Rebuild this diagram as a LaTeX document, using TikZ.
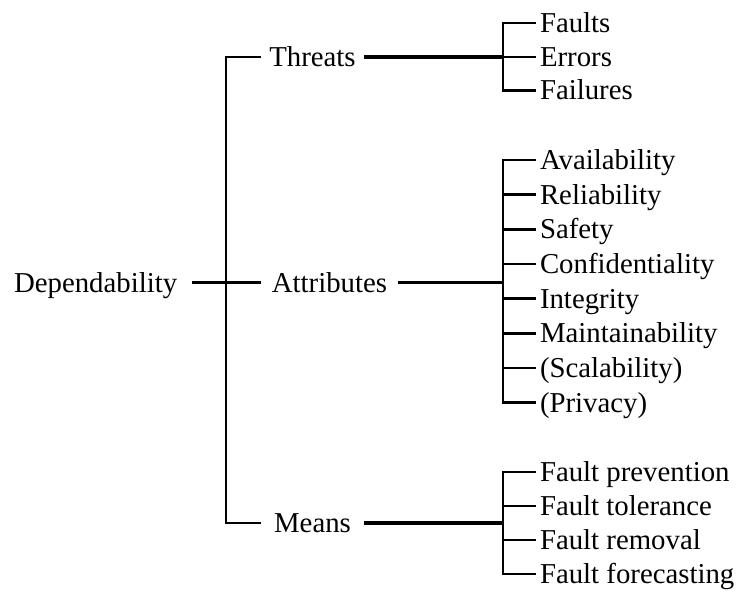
\documentclass[tikz,border=0pt]{standalone}
\usepackage{fontspec}
\setmainfont{Liberation Serif}
\begin{document}
\begin{tikzpicture}[x=1pt,y=-1pt,
  every node/.style={font=\fontsize{28.8}{34}\selectfont, text height=19.1pt,
    text depth=0pt, inner ysep=0pt, outer sep=0pt},
  rootnode/.style={anchor=east, inner xsep=14.5pt},
  branchnode/.style={inner xsep=0pt, minimum width=103.6pt},
  leafnode/.style={anchor=west, inner xsep=4pt},
  wire/.style={line width=2.3pt},
  trunk/.style={line width=3.2pt},
  comb/.style={line width=2.6pt},
]
\useasboundingbox (0,0) rectangle (741,590);

% root and the three branches
\node[rootnode] (dep) at (191.7,282.5) {Dependability};
\node[branchnode] (thr) at (312.5,57) {Threats};
\node[branchnode, minimum width=137.6pt] (att) at (329.5,282.5) {Attributes};
\node[branchnode] (mea) at (312.5,523) {Means};

% spine joining the branches
\coordinate (sT) at (226,57);
\coordinate (sA) at (226,282.5);
\coordinate (sM) at (226,523);
\draw[wire] (thr.west) -- (sT) -- (sM) -- (mea.west);
\draw[trunk] (dep.east) -- (sA);
\draw[wire] (sA) -- (att.west);

% threats
\node[leafnode] (t1) at (536,23) {Faults};
\node[leafnode] (t2) at (536,57) {Errors};
\node[leafnode] (t3) at (536,90.3) {Failures};
\coordinate (tj) at (503,57);
\draw[trunk] (thr.east) -- (tj);
\draw[comb] (t1.west) -| (tj) |- (t3.west);
\draw[comb] (tj) -- (t2.west);

% attributes
\foreach \k/\txt in {1/Availability, 2/Reliability, 3/Safety, 4/Confidentiality,
                    5/Integrity, 6/Maintainability, 7/(Scalability), 8/(Privacy)}
  \node[leafnode] (a\k) at (536,{160+(\k-1)*34.67}) {\txt};
\coordinate (aj) at (503,282.5);
\draw[trunk] (att.east) -- (aj);
\draw[comb] (a1.west) -| (aj) |- (a8.west);
\foreach \k in {2,...,7}
  \draw[comb] (aj |- a\k.west) -- (a\k.west);

% means
\node[leafnode] (m1) at (536,472) {Fault prevention};
\node[leafnode] (m2) at (536,506) {Fault tolerance};
\node[leafnode] (m3) at (536,540) {Fault removal};
\node[leafnode] (m4) at (536,574) {Fault forecasting};
\coordinate (mj) at (503,523);
\draw[trunk] (mea.east) -- (mj);
\draw[comb] (m1.west) -| (mj) |- (m4.west);
\foreach \k in {2,3}
  \draw[comb] (mj |- m\k.west) -- (m\k.west);
\end{tikzpicture}
\end{document}
